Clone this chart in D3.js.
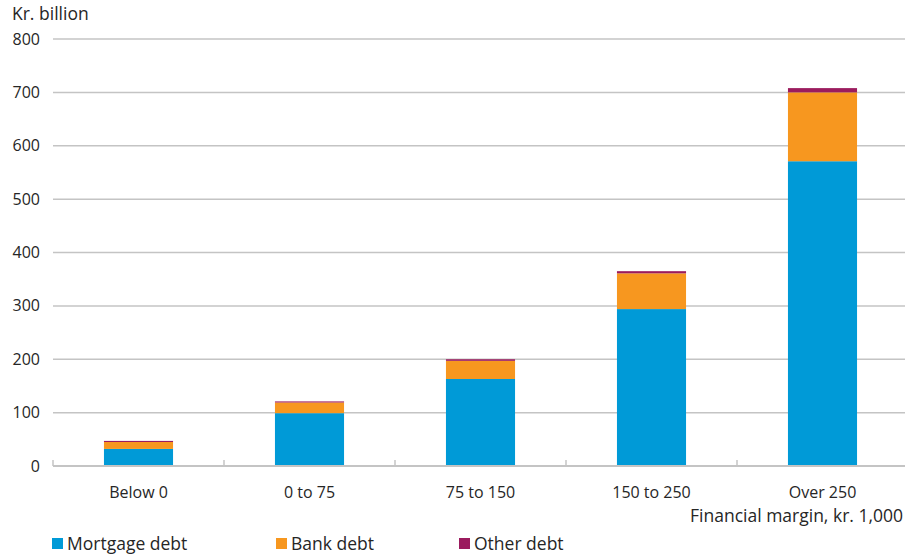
<!DOCTYPE html>
<html>
<head>
<meta charset="utf-8">
<script src="https://cdn.jsdelivr.net/npm/d3@7"></script>
<style>
  body { margin: 0; background: #fff; }
  text { font-family: "Open Sans", sans-serif; fill: #262626; }
</style>
</head>
<body>
<svg id="chart"></svg>
<script>
// chart data
var categories = ["Below 0", "0 to 75", "75 to 150", "150 to 250", "Over 250"];
var seriesNames = ["Mortgage debt", "Bank debt", "Other debt"];
var mortgage = [32, 99, 163, 294, 571];
var bank = [13, 20, 34, 67, 129];
var other = [2, 2, 3, 4, 8];
var yTicks = [0, 100, 200, 300, 400, 500, 600, 700, 800];
var colors = ["#009ad7", "#f7971f", "#9b1b5e"];

var width = 908,
    height = 557;

var svg = d3.select("#chart")
    .attr("width", width)
    .attr("height", height);

var x = d3.scaleBand()
    .domain(categories)
    .range([53, 908]);

var y = d3.scaleLinear()
    .domain([0, 800])
    .range([466, 39]);

// rows for the stack
var rows = categories.map(function(c, i) {
  return { cat: c, "Mortgage debt": mortgage[i], "Bank debt": bank[i], "Other debt": other[i] };
});
var stacked = d3.stack().keys(seriesNames)(rows);

// gridlines
svg.append("g")
  .selectAll("line")
    .data(yTicks.filter(function(d) { return d > 0; }))
  .enter().append("line")
    .attr("x1", 53)
    .attr("x2", 905)
    .attr("y1", function(d) { return y(d); })
    .attr("y2", function(d) { return y(d); })
    .attr("stroke", "#c4c4c4")
    .attr("stroke-width", 1.5);

// y labels
svg.append("g")
  .selectAll("text")
    .data(yTicks)
  .enter().append("text")
    .attr("x", 40)
    .attr("y", function(d) { return y(d); })
    .attr("dy", "0.35em")
    .attr("text-anchor", "end")
    .style("font-size", "16px")
    .text(function(d) { return d; });

svg.append("text")
    .attr("x", 12)
    .attr("y", 20)
    .style("font-size", "17.5px")
    .text("Kr. billion");

// bars
var barW = x.bandwidth() * 0.404;
svg.append("g")
  .selectAll("g")
    .data(stacked)
  .enter().append("g")
    .attr("fill", function(d, i) { return colors[i]; })
  .selectAll("rect")
    .data(function(d) { return d; })
  .enter().append("rect")
    .attr("x", function(d) { return x(d.data.cat) + (x.bandwidth() - barW) / 2; })
    .attr("width", barW)
    .attr("y", function(d) { return y(d[1]); })
    .attr("height", function(d) { return y(d[0]) - y(d[1]); });

// baseline and category ticks
svg.append("line")
    .attr("x1", 53)
    .attr("x2", 905)
    .attr("y1", y(0))
    .attr("y2", y(0))
    .attr("stroke", "#c4c4c4")
    .attr("stroke-width", 2);

svg.append("g")
  .selectAll("line")
    .data(categories)
  .enter().append("line")
    .attr("x1", function(d) { return x(d); })
    .attr("x2", function(d) { return x(d); })
    .attr("y1", y(0))
    .attr("y2", y(0) - 6)
    .attr("stroke", "#c4c4c4")
    .attr("stroke-width", 1.5);

svg.append("g")
  .selectAll("text")
    .data(categories)
  .enter().append("text")
    .attr("x", function(d) { return x(d) + x.bandwidth() / 2; })
    .attr("y", 498)
    .attr("text-anchor", "middle")
    .style("font-size", "16px")
    .text(function(d) { return d; });

svg.append("text")
    .attr("x", 903)
    .attr("y", 522)
    .attr("text-anchor", "end")
    .style("font-size", "17.5px")
    .text("Financial margin, kr. 1,000");

// legend
var legendX = [52, 276, 459];
var legend = svg.append("g")
  .selectAll("g")
    .data(seriesNames)
  .enter().append("g")
    .attr("transform", function(d, i) { return "translate(" + legendX[i] + ",538)"; });

legend.append("rect")
    .attr("width", 11)
    .attr("height", 11)
    .attr("fill", function(d, i) { return colors[i]; });

legend.append("text")
    .attr("x", 15)
    .attr("y", 6)
    .attr("dy", "0.35em")
    .style("font-size", "17.5px")
    .text(function(d) { return d; });
</script>
</body>
</html>
